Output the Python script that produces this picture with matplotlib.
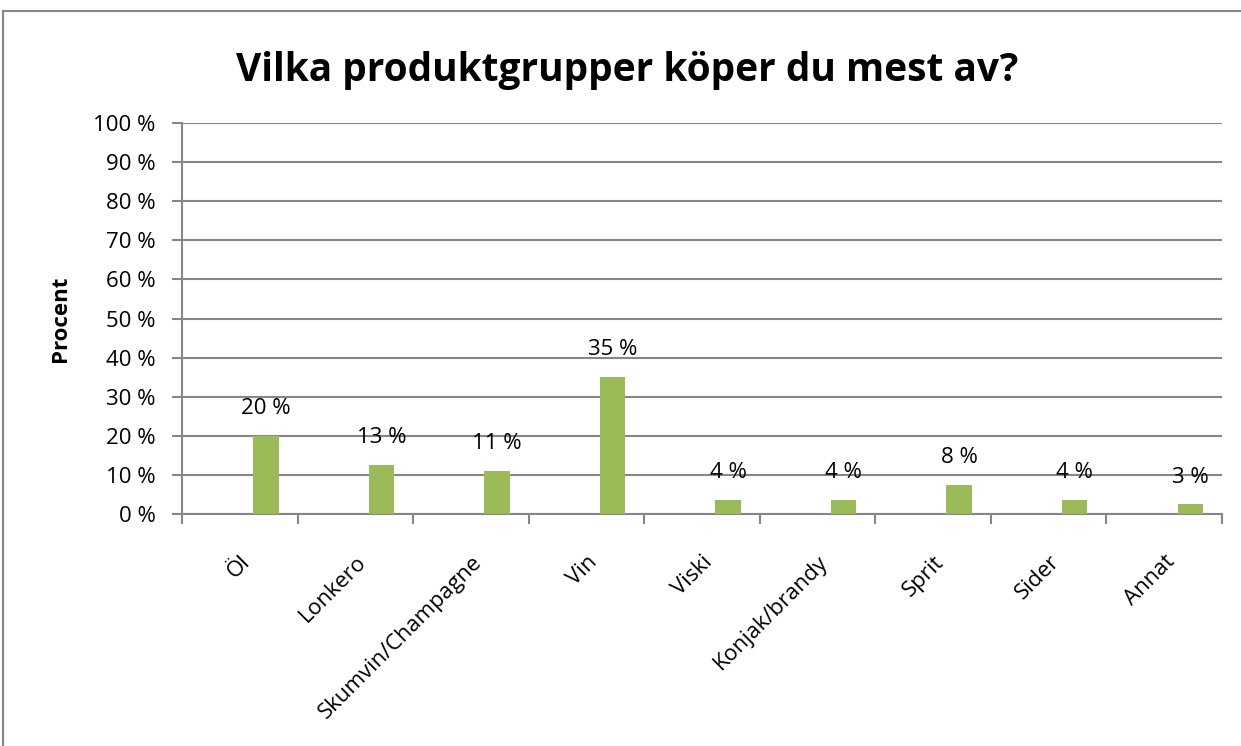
import matplotlib.pyplot as plt
from matplotlib.patches import Rectangle
import numpy as np

plt.rcParams['font.family'] = ['Open Sans', 'DejaVu Sans']

categories = ['Öl', 'Lonkero', 'Skumvin/Champagne', 'Vin', 'Viski',
              'Konjak/brandy', 'Sprit', 'Sider', 'Annat']
values = [20.0, 12.6, 11.1, 35.1, 3.7, 3.7, 7.5, 3.7, 2.5]
yticks = list(range(0, 101, 10))

green = '#9BBB59'
gray = '#868686'

fig = plt.figure(figsize=(12.41, 7.46), dpi=100)
ax = fig.add_axes([0.1467, 0.311, 0.838, 0.524])

x = np.arange(len(categories))
# bar sits in the third slot of a clustered group
bars = ax.bar(x + 0.225, values, width=0.22, color=green, zorder=3)

for b, v in zip(bars, values):
    ax.annotate(f"{int(v + 0.5)} %", (b.get_x() + b.get_width() / 2, v),
                xytext=(0, 12), textcoords='offset points',
                ha='center', va='bottom', fontsize=16)

ax.set_xlim(-0.5, len(categories) - 0.5)
ax.set_ylim(0, 100)
ax.set_yticks(yticks)
ax.set_yticklabels([f"{t} %" for t in yticks], fontsize=16)
ax.yaxis.grid(True, color=gray, linewidth=1.5, zorder=0)

ax.set_xticks(np.arange(len(categories) + 1) - 0.5)
ax.set_xticklabels([])
ax.set_xticks(x, minor=True)
ax.set_xticklabels(categories, minor=True, rotation=45, ha='right',
                   va='top', rotation_mode='anchor', fontsize=16)
ax.tick_params(axis='x', which='minor', length=0, pad=27)
ax.tick_params(axis='x', which='major', length=7, width=1.5, color=gray)
ax.tick_params(axis='y', length=7, width=1.5, color=gray, pad=12)

for s in ['top', 'right']:
    ax.spines[s].set_visible(False)
for s in ['left', 'bottom']:
    ax.spines[s].set_color(gray)
    ax.spines[s].set_linewidth(1.5)

ax.set_ylabel('Procent', fontsize=16, fontweight='bold', labelpad=16)

fig.text(0.505, 0.906, 'Vilka produktgrupper köper du mest av?',
         ha='center', va='center', fontsize=28, fontweight='bold')

fig.patches.append(Rectangle((3 / 1241, -0.05), 1.2, 1 - 11 / 746 + 0.05,
                             transform=fig.transFigure, fill=False,
                             edgecolor=gray, linewidth=1.5))

fig.savefig('out.png', dpi=100)
